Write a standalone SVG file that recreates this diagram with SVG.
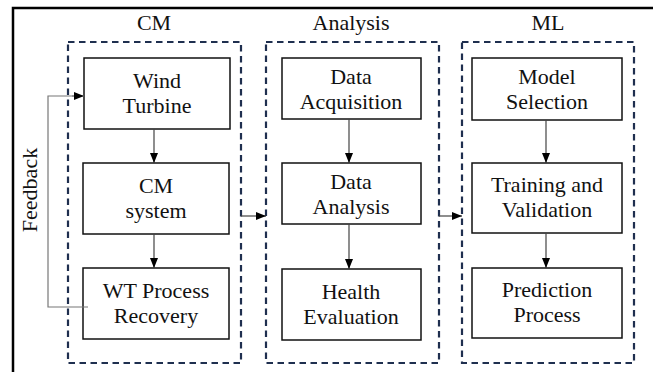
<svg xmlns="http://www.w3.org/2000/svg" width="653" height="372" viewBox="0 0 653 372">
<defs>
<marker id="ah" markerWidth="10" markerHeight="10" refX="10" refY="5" orient="auto" markerUnits="userSpaceOnUse">
<path d="M0,1 L10,5 L0,9 Z" fill="#000"/>
</marker>
<style>
text{font-family:"Times New Roman","Liberation Serif","Nimbus Roman","FreeSerif","DejaVu Serif",serif;font-size:22px;fill:#111;text-anchor:middle}
.grp{fill:none;stroke:#1f2f4f;stroke-width:2.2;stroke-dasharray:6.5 4.5}
.box{fill:#fff;stroke:#111;stroke-width:1.5}
.con{fill:none;stroke:#444;stroke-width:1.2;marker-end:url(#ah)}
.fb{fill:none;stroke:#777;stroke-width:1.2}
</style>
</defs>
<rect width="653" height="372" fill="#fff"/>
<path d="M13,372 V8 H653" fill="none" stroke="#000" stroke-width="2.5"/>

<g id="group-cm">
<rect class="grp" x="68" y="42" width="173" height="321"/>
<text x="154" y="30">CM</text>
</g>
<g id="group-analysis">
<rect class="grp" x="266" y="42" width="173" height="321"/>
<text x="351" y="30">Analysis</text>
</g>
<g id="group-ml">
<rect class="grp" x="462" y="42" width="172" height="321"/>
<text x="548" y="30">ML</text>
</g>

<g id="wind-turbine"><rect class="box" x="84" y="58" width="146" height="71"/><text x="157" y="88">Wind</text><text x="157" y="113">Turbine</text></g>
<g id="cm-system"><rect class="box" x="83" y="163" width="146" height="71"/><text x="156" y="193">CM</text><text x="156" y="218">system</text></g>
<g id="wt-process-recovery"><rect class="box" x="83" y="268" width="146" height="71"/><text x="156" y="298">WT Process</text><text x="156" y="323">Recovery</text></g>

<g id="data-acquisition"><rect class="box" x="282" y="58" width="139" height="61"/><text x="351" y="84">Data</text><text x="351" y="109">Acquisition</text></g>
<g id="data-analysis"><rect class="box" x="282" y="163" width="139" height="61"/><text x="351" y="189">Data</text><text x="351" y="214">Analysis</text></g>
<g id="health-evaluation"><rect class="box" x="282" y="269" width="139" height="71"/><text x="351" y="299">Health</text><text x="351" y="324">Evaluation</text></g>

<g id="model-selection"><rect class="box" x="472" y="58" width="150" height="62"/><text x="547" y="84">Model</text><text x="547" y="109">Selection</text></g>
<g id="training-validation"><rect class="box" x="472" y="163" width="150" height="70"/><text x="547" y="192">Training and</text><text x="547" y="217">Validation</text></g>
<g id="prediction-process"><rect class="box" x="472" y="268" width="150" height="70"/><text x="547" y="297">Prediction</text><text x="547" y="322">Process</text></g>

<g id="feedback-label"><text transform="translate(37,190) rotate(-90)">Feedback</text></g>

<g id="connectors">
<path class="con" d="M154,129 V163"/>
<path class="con" d="M154,234 V268"/>
<path class="con" d="M349,119 V163"/>
<path class="con" d="M349,224 V269"/>
<path class="con" d="M546,120 V163"/>
<path class="con" d="M546,233 V268"/>
<path class="con" d="M241,216 H266"/>
<path class="con" d="M439,216 H462"/>
<path class="fb" d="M88,307 H48 V96 H74"/>
<path class="con" d="M72,96 H84" style="stroke:#777"/>
</g>
</svg>
